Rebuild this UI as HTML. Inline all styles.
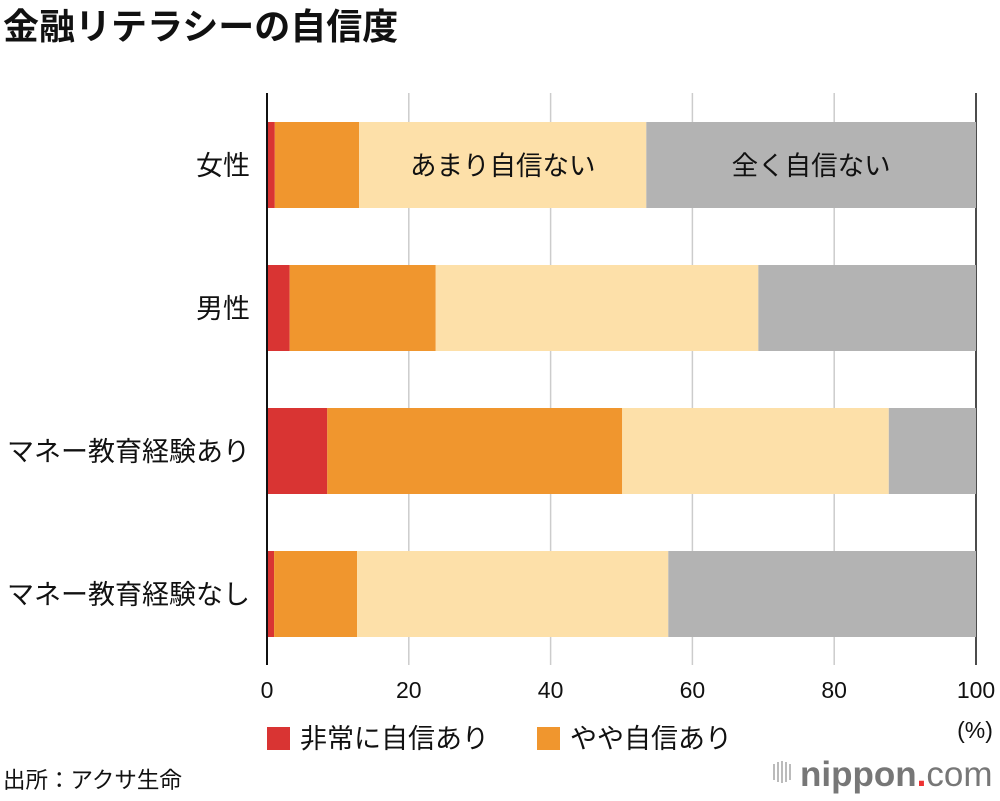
<!DOCTYPE html>
<html><head><meta charset="utf-8"><style>
body{margin:0;width:1000px;height:796px;background:#fff;overflow:hidden;font-family:"Liberation Sans","Noto Sans CJK JP",sans-serif;}
</style></head><body>
<svg id="chart" width="1000" height="796" xmlns="http://www.w3.org/2000/svg" font-family="Liberation Sans, Noto Sans CJK JP, sans-serif">
<text x="3" y="39" font-size="36" font-weight="bold" fill="#111">金融リテラシーの自信度</text>
<g id="grid"></g><g id="bars"></g><g id="labels"></g>
<text x="975" y="738" font-size="23" text-anchor="middle" fill="#111">(%)</text>
<rect x="267" y="727" width="23" height="23" fill="#d93433"/>
<text x="300" y="748" font-size="27" fill="#111">非常に自信あり</text>
<rect x="537" y="727" width="23" height="23" fill="#f0962e"/>
<text x="570" y="748" font-size="27" fill="#111">やや自信あり</text>
<text x="3" y="788" font-size="22.5" fill="#111">出所：アクサ生命</text>
<g>
<g fill="#bbb"><rect x="773" y="764" width="2" height="16"/><rect x="777" y="762" width="2" height="20"/><rect x="781" y="761" width="2" height="22"/><rect x="785" y="762" width="2" height="20"/><rect x="789" y="764" width="2" height="16"/></g>
<text x="800" y="786" font-size="35" fill="#777" font-weight="bold">nippon<tspan fill="#e33">.</tspan><tspan font-weight="normal">com</tspan></text>
</g>
</svg>
<script>
const categories=["女性","男性","マネー教育経験あり","マネー教育経験なし"];
const veryConfident=[1.1,3.2,8.5,1.0];
const somewhatConfident=[11.9,20.6,41.6,11.7];
const notVery=[40.5,45.5,37.6,43.9];
const notAtAll=[46.5,30.7,12.3,43.4];
const ticks=[0,20,40,60,80,100];
const colors=["#d93433","#f0962e","#fde0a9","#b3b3b3"];
const NS="http://www.w3.org/2000/svg";
const x=v=>267+v*7.09;
const y=i=>122+i*143;
const bh=86;
function mk(tag,attrs,parent){const e=document.createElementNS(NS,tag);for(const k in attrs)e.setAttribute(k,attrs[k]);document.getElementById(parent).appendChild(e);return e;}
ticks.forEach(t=>{
 const l=mk("line",{x1:x(t),x2:x(t),y1:93,y2:665,stroke:t===0||t===100?"#111":"#ccc","stroke-width":t===0?2:1.5},"grid");
 
 
 const tx=mk("text",{x:x(t),y:698,"font-size":23,"text-anchor":"middle",fill:"#111"},"grid");
 tx.textContent=t;
 
 
});
const series=[veryConfident,somewhatConfident,notVery,notAtAll];
const snames=["very-confident","somewhat-confident","not-very-confident","not-at-all-confident"];
categories.forEach((c,i)=>{
 let acc=0;
 series.forEach((s,j)=>{
  const r=mk("rect",{x:x(acc),y:y(i),width:x(acc+s[i])-x(acc),height:bh,fill:colors[j]},"bars");
  
  
  acc+=s[i];
 });
 const t=mk("text",{x:250,y:y(i)+bh/2+10,"font-size":27,"text-anchor":"end",fill:"#111"},"labels");
 t.textContent=c;
 
 
});
const a0=veryConfident[0]+somewhatConfident[0];
const l1=mk("text",{x:x(a0+notVery[0]/2),y:y(0)+bh/2+10,"font-size":26.5,"text-anchor":"middle",fill:"#111"},"labels");
l1.textContent="あまり自信ない";


const l2=mk("text",{x:x(a0+notVery[0]+notAtAll[0]/2),y:y(0)+bh/2+10,"font-size":26.5,"text-anchor":"middle",fill:"#111"},"labels");
l2.textContent="全く自信ない";


const ax=mk("line",{x1:x(0),x2:x(0),y1:93,y2:665,stroke:"#111","stroke-width":2},"labels");


</script>
</body></html>
